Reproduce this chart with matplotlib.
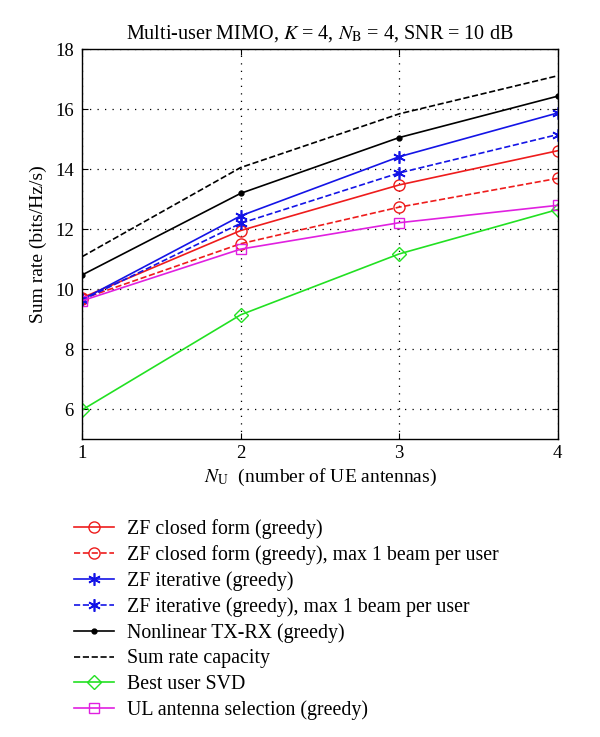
"""Sum rate vs number of UE antennas, multi-user MIMO (K=4, NB=4, SNR=10 dB)."""

import matplotlib

matplotlib.use("Agg")
import matplotlib.pyplot as plt

n_ue = [1, 2, 3, 4]

zf_closed = [9.72, 11.96, 13.48, 14.62]
zf_closed_1beam = [9.68, 11.52, 12.74, 13.70]
zf_iter = [9.66, 12.45, 14.42, 15.88]
zf_iter_1beam = [9.64, 12.20, 13.88, 15.16]
nonlinear = [10.48, 13.20, 15.06, 16.44]
capacity = [11.09, 14.06, 15.85, 17.12]
best_svd = [5.98, 9.15, 11.18, 12.66]
ul_antenna = [9.62, 11.34, 12.22, 12.80]

RED = "#ee1c1c"
BLUE = "#1414e6"
GREEN = "#22e022"
MAGENTA = "#e020e0"

plt.rcParams["font.family"] = ["Liberation Serif", "DejaVu Serif"]
plt.rcParams["mathtext.fontset"] = "stix"
plt.rcParams["font.size"] = 12

fig = plt.figure(figsize=(6.0, 7.37), dpi=100)
ax = fig.add_axes([0.137, 0.404, 0.7925, 0.529])

ax.plot(n_ue, zf_closed, "-", color=RED, marker="o", mfc="none", ms=8, lw=1.2,
        label="ZF closed form (greedy)")
ax.plot(n_ue, zf_closed_1beam, "--", color=RED, marker="o", mfc="none", ms=8, lw=1.2,
        label="ZF closed form (greedy), max 1 beam per user")
ax.plot(n_ue, zf_iter, "-", color=BLUE, marker=(6, 2, 0), ms=9, mew=1.2, lw=1.2,
        label="ZF iterative (greedy)")
ax.plot(n_ue, zf_iter_1beam, "--", color=BLUE, marker=(6, 2, 0), ms=9, mew=1.2, lw=1.2,
        label="ZF iterative (greedy), max 1 beam per user")
ax.plot(n_ue, nonlinear, "-", color="black", marker=".", ms=7, lw=1.2,
        label="Nonlinear TX-RX (greedy)")
ax.plot(n_ue, capacity, "--", color="black", lw=1.2, label="Sum rate capacity")
ax.plot(n_ue, best_svd, "-", color=GREEN, marker="D", mfc="none", ms=7, lw=1.2,
        label="Best user SVD")
ax.plot(n_ue, ul_antenna, "-", color=MAGENTA, marker="s", mfc="none", ms=6.5, lw=1.2,
        label="UL antenna selection (greedy)")

ax.set_xlim(1, 4)
ax.set_ylim(5, 18)
ax.set_xticks(n_ue)
ax.set_yticks(range(6, 19, 2))
ax.grid(True, color="black", linestyle=(0, (1, 5)), linewidth=0.9)
ax.tick_params(direction="in", top=True, right=True, length=4, labelsize=13.5)
ax.tick_params(axis="x", pad=4)
ax.tick_params(axis="y", pad=6)
for spine in ax.spines.values():
    spine.set_linewidth(1.0)

ax.set_title(r"Multi-user MIMO, $K$ = 4, $N_\mathrm{B}$ = 4, SNR = 10 dB", fontsize=14.5, pad=8)
ax.set_xlabel(r"$N_\mathrm{U}$  (number of UE antennas)", fontsize=14, labelpad=4)
ax.set_ylabel("Sum rate (bits/Hz/s)", fontsize=14, labelpad=6)

handles, labels = ax.get_legend_handles_labels()
fig.legend(handles, labels, loc="upper left", bbox_to_anchor=(0.11, 0.307),
           frameon=False, fontsize=14.3, handlelength=2.0, handletextpad=0.65,
           labelspacing=0.32, borderaxespad=0)

fig.savefig("out.png", dpi=100)
